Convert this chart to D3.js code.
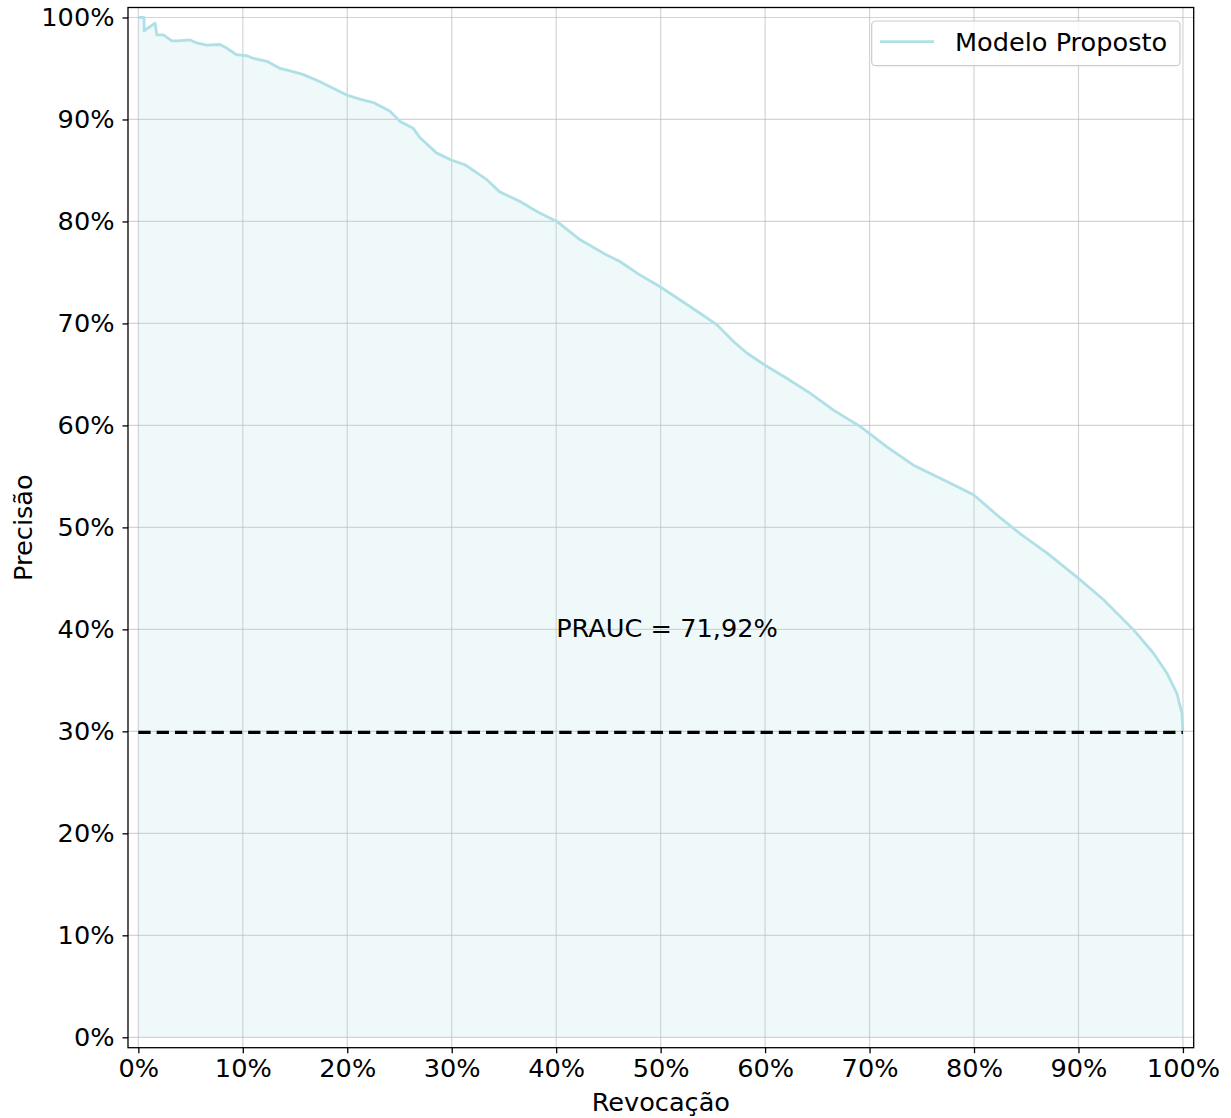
<!DOCTYPE html>
<html>
<head>
<meta charset="utf-8">
<script src="https://cdn.jsdelivr.net/npm/d3@7"></script>
<style>
  html, body { margin: 0; padding: 0; background: #ffffff; }
  svg text { font-family: "DejaVu Sans", sans-serif; fill: #000; }
</style>
</head>
<body>
<svg id="chart" width="1231" height="1118"></svg>
<script>
// Precision-recall curve of the proposed model
const recall = [0, .0055, .0055, .016, .0176, .024, .032, .038, .0495, .056,
  .0655, .078, .0846, .094, .1038, .110, .123, .1357, .148, .158,
  .174, .1835, .1995, .212, .225, .241, .2506, .263, .2697, .2857,
  .300, .313, .3336, .346, .3655, .3815, .4006, .423, .4485, .461,
  .480, .4995, .5187, .5377, .554, .570, .5825, .600, .621, .643,
  .6655, .691, .7166, .742, .774, .7995, .825, .844, .870, .900,
  .924, .9527, .9718, .9847, .9942, .999, 1.0];
const precision = [1.0, 1.0, .987, .9945, .983, .983, .977, .977, .978, .975,
  .973, .9735, .970, .9635, .9625, .960, .957, .950, .947, .944,
  .937, .932, .924, .920, .9166, .908, .898, .8915, .882, .867,
  .860, .8555, .841, .829, .8195, .8097, .800, .782, .767, .7607,
  .7476, .736, .723, .710, .6986, .682, .671, .659, .646, .6316,
  .615, .599, .579, .561, .545, .532, .5095, .494, .4747, .450,
  .429, .3995, .3766, .357, .3373, .3178, .2997];
const baselinePrecision = 0.299;   // positive-class prevalence
const seriesName = "Modelo Proposto";
const aucLabel = "PRAUC = 71,92%";
const tickValues = [0, .1, .2, .3, .4, .5, .6, .7, .8, .9, 1.0];
const xLabel = "Revocação";
const yLabel = "Precisão";

(function draw() {
  const points = recall.map((r, i) => ({ r, p: precision[i] }));

  const svg = d3.select("#chart");
  const pl = 128, pr = 1193.7, pt = 7.5, pb = 1047.7;
  const fontSize = 25.6;
  const curveColor = "#b0e0e6";

  const x = d3.scaleLinear().domain([-0.0099, 1.0103]).range([pl, pr]);
  const y = d3.scaleLinear().domain([-0.0102, 1.0098]).range([pb, pt]);
  const pct = d => Math.round(d * 100) + "%";

  svg.append("rect").attr("width", 1231).attr("height", 1118).attr("fill", "#fff");

  // grid
  const grid = svg.append("g").attr("stroke", "#b0b0b0").attr("stroke-opacity", 0.55).attr("stroke-width", 1.2);
  grid.selectAll(".gx").data(tickValues).join("line")
    .attr("x1", d => x(d)).attr("x2", d => x(d)).attr("y1", pt).attr("y2", pb);
  grid.selectAll(".gy").data(tickValues).join("line")
    .attr("y1", d => y(d)).attr("y2", d => y(d)).attr("x1", pl).attr("x2", pr);

  // area under the curve
  const area = d3.area().x(d => x(d.r)).y0(y(0)).y1(d => y(d.p));
  svg.append("path").datum(points).attr("d", area)
    .attr("fill", curveColor).attr("fill-opacity", 0.2);

  // curve
  const line = d3.line().x(d => x(d.r)).y(d => y(d.p));
  svg.append("path").datum(points).attr("d", line)
    .attr("fill", "none").attr("stroke", curveColor).attr("stroke-width", 2.8)
    .attr("stroke-linejoin", "round");

  // no-skill baseline
  svg.append("line")
    .attr("x1", x(0)).attr("x2", x(1)).attr("y1", y(baselinePrecision)).attr("y2", y(baselinePrecision))
    .attr("stroke", "#000").attr("stroke-width", 3.2).attr("stroke-dasharray", "12.3,6");

  // AUC annotation
  svg.append("text").attr("x", x(0.40)).attr("y", y(0.40)).attr("dy", "0.28em")
    .attr("font-size", fontSize).text(aucLabel);

  // axes
  const xAxis = d3.axisBottom(x).tickValues(tickValues).tickFormat(pct).tickSize(5.5).tickPadding(6);
  const yAxis = d3.axisLeft(y).tickValues(tickValues).tickFormat(pct).tickSize(5.5).tickPadding(8);
  const gx = svg.append("g").attr("transform", `translate(0,${pb})`).call(xAxis);
  const gy = svg.append("g").attr("transform", `translate(${pl},0)`).call(yAxis);
  [gx, gy].forEach(g => {
    g.select(".domain").remove();
    g.selectAll(".tick line").attr("stroke", "#000").attr("stroke-width", 1.3);
    g.selectAll(".tick text").attr("font-size", fontSize).attr("font-family", "DejaVu Sans");
  });

  // frame
  svg.append("rect").attr("x", pl).attr("y", pt).attr("width", pr - pl).attr("height", pb - pt)
    .attr("fill", "none").attr("stroke", "#000").attr("stroke-width", 1.3);

  // axis titles
  svg.append("text").attr("x", (pl + pr) / 2).attr("y", 1110.5).attr("text-anchor", "middle")
    .attr("font-size", fontSize).text(xLabel);
  svg.append("text").attr("transform", `translate(31.5,${(pt + pb) / 2}) rotate(-90)`)
    .attr("text-anchor", "middle").attr("font-size", fontSize).text(yLabel);

  // legend
  const lg = svg.append("g");
  lg.append("rect").attr("x", 871.7).attr("y", 21).attr("width", 308.3).attr("height", 44.7)
    .attr("rx", 4).attr("fill", "#fff").attr("fill-opacity", 0.8)
    .attr("stroke", "#cccccc").attr("stroke-width", 1.2);
  lg.append("line").attr("x1", 880).attr("x2", 934).attr("y1", 41.7).attr("y2", 41.7)
    .attr("stroke", curveColor).attr("stroke-width", 2.8);
  lg.append("text").attr("x", 955).attr("y", 41.7).attr("dy", "0.35em")
    .attr("font-size", fontSize).text(seriesName);
})();
</script>
</body>
</html>
